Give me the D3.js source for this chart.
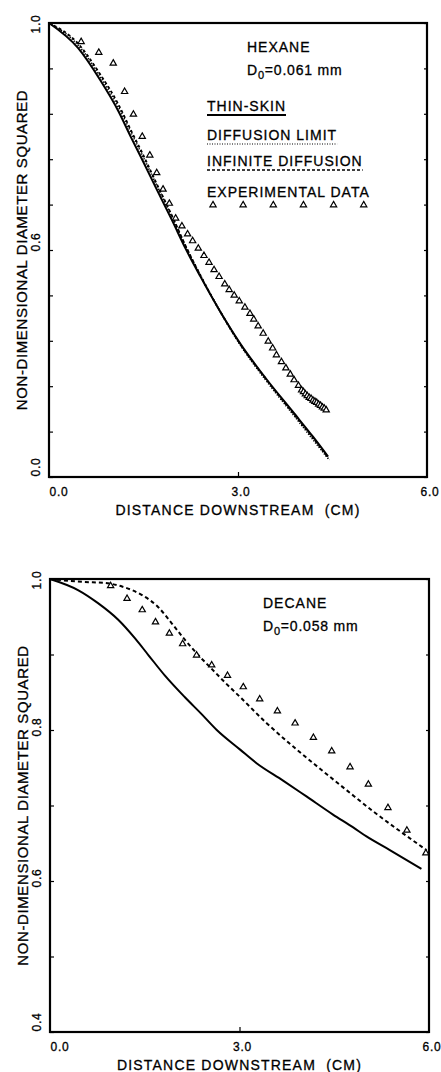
<!DOCTYPE html>
<html>
<head>
<meta charset="utf-8">
<script src="https://cdn.jsdelivr.net/npm/d3@7"></script>
<style>
  body { margin: 0; background: #fff; }
  svg text { font-family: "Liberation Sans", Arial, sans-serif; fill: #000; stroke: #000; stroke-width: 0.3px; }
</style>
</head>
<body>
<script>
// ---- data: [distance (cm), d^2/d0^2] ----

var xTickValues = [0, 3, 6];
var xTickLabels = ["0.0", "3.0", "6.0"];

// hexane panel
var hexaneYTicks = [0.2, 0.28, 0.36, 0.44, 0.52, 0.6, 0.68, 0.76, 0.84, 0.92, 1.0];
var hexaneYLabelValues = [1.0, 0.6, 0.2];
var hexaneYLabels = ["1.0", "0.6", "0.0"];

var hexaneThinSkin = [[0, 1.0], [0.46, 0.956], [0.81, 0.900], [1.10, 0.845], [1.30, 0.799],
  [1.48, 0.759], [1.70, 0.709], [1.95, 0.653], [2.17, 0.602], [2.40, 0.554], [2.71, 0.493],
  [3.03, 0.436], [3.44, 0.374], [3.87, 0.315], [4.19, 0.271], [4.43, 0.236]];

var hexaneDiffLimit = [[0, 1.0], [0.46, 0.961], [0.81, 0.906], [1.10, 0.852], [1.30, 0.807],
  [1.48, 0.767], [1.70, 0.716], [1.95, 0.659], [2.17, 0.606], [2.40, 0.556], [2.71, 0.493],
  [3.03, 0.434], [3.44, 0.371], [3.87, 0.311], [4.19, 0.266], [4.45, 0.230]];

var hexaneInfDiff = [[0, 1.0], [0.46, 0.964], [0.81, 0.910], [1.10, 0.857], [1.30, 0.811],
  [1.48, 0.771], [1.70, 0.719], [1.95, 0.661], [2.17, 0.607], [2.40, 0.556], [2.71, 0.493],
  [3.03, 0.435], [3.44, 0.373], [3.87, 0.313], [4.19, 0.269], [4.43, 0.234]];

var hexaneExp = [[0.51, 0.967], [0.79, 0.948], [1.02, 0.929], [1.20, 0.879], [1.34, 0.839],
  [1.48, 0.800], [1.60, 0.767], [1.71, 0.736], [1.81, 0.707], [1.91, 0.682], [2.01, 0.656],
  [2.11, 0.642], [2.20, 0.628], [2.28, 0.616], [2.37, 0.603], [2.46, 0.590], [2.54, 0.578],
  [2.62, 0.565], [2.70, 0.553], [2.79, 0.540], [2.86, 0.530], [2.94, 0.520], [3.02, 0.510],
  [3.11, 0.499], [3.19, 0.488], [3.25, 0.478], [3.32, 0.466], [3.40, 0.453], [3.48, 0.439],
  [3.55, 0.427], [3.61, 0.415], [3.69, 0.403], [3.76, 0.392], [3.83, 0.381], [3.89, 0.371],
  [3.96, 0.361], [4.01, 0.353], [4.04, 0.350], [4.07, 0.346], [4.10, 0.343], [4.13, 0.340],
  [4.16, 0.338], [4.19, 0.335], [4.22, 0.333], [4.25, 0.331], [4.28, 0.328], [4.31, 0.326],
  [4.34, 0.323], [4.37, 0.321], [4.40, 0.318]];

// decane panel
var decaneYTicks = [0.4, 0.5, 0.6, 0.7, 0.8, 0.9, 1.0];
var decaneYLabelValues = [1.0, 0.8, 0.6, 0.4];
var decaneYLabels = ["1.0", "0.8", "0.6", "0.4"];

var decaneThinSkin = [[0, 1.0], [0.45, 0.985], [0.76, 0.968], [1.08, 0.946], [1.35, 0.921],
  [1.56, 0.899], [1.82, 0.872], [2.14, 0.843], [2.40, 0.821], [2.64, 0.800], [3.01, 0.774],
  [3.27, 0.756], [3.69, 0.733], [4.06, 0.712], [4.48, 0.688], [4.80, 0.671], [5.01, 0.659],
  [5.38, 0.641], [5.88, 0.616]];

var decaneInfDiff = [[0, 1.0], [0.55, 0.996], [0.85, 0.995], [1.14, 0.990], [1.45, 0.979],
  [1.71, 0.963], [1.93, 0.941], [2.14, 0.919], [2.35, 0.899], [2.56, 0.881], [2.77, 0.863],
  [3.03, 0.842], [3.43, 0.809], [3.85, 0.778], [4.27, 0.749], [4.70, 0.720], [5.12, 0.692],
  [5.54, 0.666], [5.96, 0.641]];

var decaneExp = [[0.96, 0.991], [1.22, 0.974], [1.46, 0.959], [1.67, 0.943], [1.89, 0.928],
  [2.10, 0.914], [2.32, 0.899], [2.56, 0.886], [2.81, 0.872], [3.06, 0.857], [3.32, 0.841],
  [3.60, 0.825], [3.88, 0.809], [4.17, 0.790], [4.46, 0.772], [4.75, 0.751], [5.04, 0.728],
  [5.35, 0.697], [5.65, 0.667], [5.95, 0.637]];

var legendNames = ["THIN-SKIN", "DIFFUSION LIMIT", "INFINITE DIFFUSION", "EXPERIMENTAL DATA"];

// ---- drawing ----

var width = 441, height = 1072;

var svg = d3.select("body")
            .append("svg")
            .attr("width", width)
            .attr("height", height);

var triangle = d3.symbol().type(d3.symbolTriangle).size(17);

function drawPanel(p) {

    var x = d3.scaleLinear().domain([0, 6]).range([p.left, p.right]);
    var y = d3.scaleLinear().domain(p.yDomain).range([p.bottom, p.top]);

    var g = svg.append("g");

    // inward ticks, left and right
    g.append("g")
        .attr("transform", "translate(" + p.left + ",0)")
        .call(d3.axisLeft(y).tickValues(p.yTicks).tickSize(-4).tickFormat(""))
        .call(function(s) { s.select(".domain").remove(); });

    g.append("g")
        .attr("transform", "translate(" + p.right + ",0)")
        .call(d3.axisRight(y).tickValues(p.yTicks).tickSize(-3).tickFormat(""))
        .call(function(s) { s.select(".domain").remove(); });

    g.append("g")
        .attr("transform", "translate(0," + p.bottom + ")")
        .call(d3.axisBottom(x).tickValues([3]).tickSize(-5).tickFormat(""))
        .call(function(s) { s.select(".domain").remove(); });

    g.selectAll(".tick line").attr("stroke", "#000").attr("stroke-width", 1.2);

    // y tick labels (rotated)
    g.selectAll(".ylab")
        .data(p.yLabelValues)
      .enter().append("text")
        .attr("class", "ylab")
        .attr("transform", function(d) {
            var yy = Math.min(Math.max(y(d) + p.labelShift, p.top + 1), p.bottom - 10);
            return "translate(" + (p.left - 9) + "," + yy + ") rotate(-90)";
        })
        .attr("text-anchor", "middle")
        .style("font-size", "12px")
        .style("letter-spacing", "0.8px")
        .text(function(d, i) { return p.yLabels[i]; });

    // x tick labels
    g.selectAll(".xlab")
        .data(xTickValues)
      .enter().append("text")
        .attr("class", "xlab")
        .attr("x", function(d, i) { return x(d) + (i === 0 ? 10 : 3); })
        .attr("y", p.bottom + 19)
        .attr("text-anchor", "middle")
        .style("font-size", "12px")
        .style("letter-spacing", "0.8px")
        .text(function(d, i) { return xTickLabels[i]; });

    // axis titles
    g.append("text")
        .attr("x", (p.left + p.right) / 2)
        .attr("y", p.bottom + 38)
        .attr("text-anchor", "middle")
        .attr("xml:space", "preserve")
        .style("font-size", "14px")
        .style("letter-spacing", "1.2px")
        .text("DISTANCE DOWNSTREAM  (CM)");

    g.append("text")
        .attr("transform", "translate(" + (p.left - 22) + "," + ((p.top + p.bottom) / 2) + ") rotate(-90)")
        .attr("text-anchor", "middle")
        .style("font-size", "15px")
        .style("letter-spacing", "0.6px")
        .text("NON-DIMENSIONAL DIAMETER SQUARED");

    // curves
    var line = d3.line()
        .x(function(d) { return x(d[0]); })
        .y(function(d) { return y(d[1]); })
        .curve(d3.curveMonotoneX);

    p.lines.forEach(function(l) {
        g.append("path")
            .datum(l.data)
            .attr("d", line)
            .attr("fill", "none")
            .attr("stroke", "#000")
            .attr("stroke-width", l.width)
            .attr("stroke-dasharray", l.dash);
    });

    g.selectAll(".pt")
        .data(p.points)
      .enter().append("path")
        .attr("class", "pt")
        .attr("d", triangle)
        .attr("transform", function(d) { return "translate(" + x(d[0]) + "," + y(d[1]) + ")"; })
        .attr("fill", "#fff")
        .attr("stroke", "#000")
        .attr("stroke-width", 1.2);

    // frame
    g.append("rect")
        .attr("x", p.left)
        .attr("y", p.top)
        .attr("width", p.right - p.left)
        .attr("height", p.bottom - p.top)
        .attr("fill", "none")
        .attr("stroke", "#000")
        .attr("stroke-width", 2.2);

    // fuel name and initial diameter
    g.append("text")
        .attr("x", p.labelX)
        .attr("y", p.top + 29)
        .style("font-size", "14px")
        .style("letter-spacing", "1px")
        .text(p.fuel);

    var d0 = g.append("text")
        .attr("x", p.labelX)
        .attr("y", p.top + 52)
        .style("font-size", "14px")
        .style("letter-spacing", "0.8px");
    d0.append("tspan").text("D");
    d0.append("tspan").attr("dy", 4).style("font-size", "11px").text("0");
    d0.append("tspan").attr("dy", -4).text("=" + p.diameter + " mm");

    return g;
}

var hexane = drawPanel({
    left: 49, right: 427, top: 23, bottom: 477,
    yDomain: [0.2, 1.0],
    yTicks: hexaneYTicks,
    yLabelValues: hexaneYLabelValues,
    yLabels: hexaneYLabels,
    labelShift: -8,
    lines: [
        {data: hexaneThinSkin, width: 2, dash: null},
        {data: hexaneDiffLimit, width: 1.8, dash: "1.2,1.6"},
        {data: hexaneInfDiff, width: 1.8, dash: "3,2.5"}
    ],
    points: hexaneExp,
    fuel: "HEXANE",
    diameter: "0.061",
    labelX: 247
});

drawPanel({
    left: 50, right: 429, top: 579, bottom: 1032,
    yDomain: [0.4, 1.0],
    yTicks: decaneYTicks,
    yLabelValues: decaneYLabelValues,
    yLabels: decaneYLabels,
    labelShift: -3,
    lines: [
        {data: decaneThinSkin, width: 2, dash: null},
        {data: decaneInfDiff, width: 2, dash: "4,3"}
    ],
    points: decaneExp,
    fuel: "DECANE",
    diameter: "0.058",
    labelX: 263
});

// legend in the hexane panel
var legX = 207,
    legBase = [111, 140, 166, 197],
    legStyles = [
        {width: 2, dash: null},
        {width: 1.2, dash: "1,1.5"},
        {width: 1.5, dash: "3,2"}
    ];

legendNames.forEach(function(name, i) {
    var t = hexane.append("text")
        .attr("x", legX)
        .attr("y", legBase[i])
        .style("font-size", "14px")
        .style("letter-spacing", "1px")
        .text(name);
    var w = t.node().getComputedTextLength();

    if (i < 3) {
        hexane.append("line")
            .attr("x1", legX).attr("x2", legX + w)
            .attr("y1", legBase[i] + 4).attr("y2", legBase[i] + 4)
            .attr("stroke", "#000")
            .attr("stroke-width", legStyles[i].width)
            .attr("stroke-dasharray", legStyles[i].dash);
    } else {
        hexane.selectAll(".legtri")
            .data(d3.range(6))
          .enter().append("path")
            .attr("class", "legtri")
            .attr("d", triangle)
            .attr("transform", function(d) {
                return "translate(" + (legX + 6 + d * (w - 6) / 5.2) + "," + (legBase[i] + 8) + ")";
            })
            .attr("fill", "#fff")
            .attr("stroke", "#000")
            .attr("stroke-width", 1.2);
    }
});
</script>
</body>
</html>
